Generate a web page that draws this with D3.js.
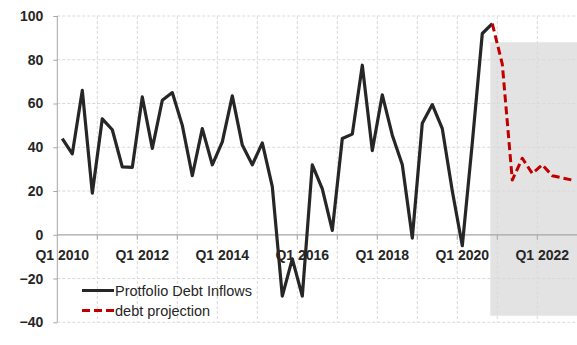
<!DOCTYPE html>
<html>
<head>
<meta charset="utf-8">
<script src="https://cdn.jsdelivr.net/npm/d3@7"></script>
<style>
  body { margin: 0; background: #fff; }
  svg { display: block; font-family: "Liberation Sans", Arial, sans-serif; }
</style>
</head>
<body>
<svg id="chart" width="577" height="345"></svg>
<script>
// quarters Q1 2010 .. Q4 2022
const years = [2010, 2011, 2012, 2013, 2014, 2015, 2016, 2017, 2018, 2019, 2020, 2021, 2022];
const quarters = [];
years.forEach(y => [1, 2, 3, 4].forEach(q => quarters.push(`Q${q} ${y}`)));

// Protfolio Debt Inflows, Q1 2010 .. Q4 2020
const inflows = [44, 37, 66, 19, 53, 48, 31, 30.8, 63, 39.5, 61.5, 65,
                 50, 27, 48.5, 32, 42.5, 63.5, 41, 32, 42, 22, -28, -11,
                 -28, 32, 21, 2, 44, 46, 77.5, 38.5, 64, 45.5, 32, -1.5,
                 51, 59.5, 48.5, 20, -5, 42, 92, 96.5];

// debt projection, Q4 2020 .. Q4 2022
const projStart = 43;
const projection = [96.5, 78, 25, 35, 28, 32, 27, 26, 25];

const yTicks = [-40, -20, 0, 20, 40, 60, 80, 100];
const xLabels = ["Q1 2010", "Q1 2012", "Q1 2014", "Q1 2016", "Q1 2018", "Q1 2020", "Q1 2022"];

// shaded projection area
const shadeFrom = "Q4 2020";
const shadeTop = 88, shadeBottom = -37;

const svg = d3.select("#chart");
const plotLeft = 57.3, plotRight = 577.3, plotTop = 16, plotBottom = 322.3;

const x = d3.scaleBand().domain(quarters).range([plotLeft, plotRight]).paddingInner(0).paddingOuter(0);
const y = d3.scaleLinear().domain([-40, 100]).range([plotBottom, plotTop]);
const cx = q => x(q) + x.bandwidth() / 2;

// shaded band
svg.append("rect")
  .attr("x", x(shadeFrom) + x.bandwidth() * 0.3)
  .attr("y", y(shadeTop))
  .attr("width", plotRight - x(shadeFrom) - x.bandwidth() * 0.3)
  .attr("height", y(shadeBottom) - y(shadeTop))
  .attr("fill", "#e3e3e3");

// gridlines
const grid = svg.append("g").attr("stroke", "#d9d9d9").attr("stroke-dasharray", "3,2").attr("stroke-width", 1);
grid.selectAll(".h").data(yTicks.filter(t => t !== 0)).join("line")
  .attr("x1", plotLeft).attr("x2", plotRight)
  .attr("y1", d => y(d)).attr("y2", d => y(d));
const yearStarts = quarters.filter((q, i) => i > 0 && i % 4 === 0);
grid.selectAll(".v").data(yearStarts).join("line")
  .attr("x1", d => x(d)).attr("x2", d => x(d))
  .attr("y1", plotTop).attr("y2", plotBottom);

// y axis
const yAxis = svg.append("g").attr("transform", `translate(${plotLeft},0)`)
  .call(d3.axisLeft(y).tickValues(yTicks).tickSize(4).tickPadding(10));
yAxis.select(".domain").attr("stroke", "#a6a6a6").attr("d", `M0,${plotTop}V${plotBottom}`);
yAxis.selectAll(".tick line").attr("stroke", "#a6a6a6");
yAxis.selectAll(".tick text")
  .attr("font-size", 14).attr("font-weight", "bold").attr("fill", "#262626")
  .attr("font-family", "Liberation Sans, Arial, sans-serif");

// x axis at zero
const xAxisG = svg.append("g").attr("transform", `translate(0,${y(0)})`);
xAxisG.append("line").attr("x1", plotLeft).attr("x2", plotRight).attr("stroke", "#a6a6a6").attr("stroke-width", 1.3);
xAxisG.selectAll(".tk").data(yearStarts).join("line")
  .attr("x1", d => x(d)).attr("x2", d => x(d)).attr("y1", 0).attr("y2", 5)
  .attr("stroke", "#a6a6a6");
xAxisG.selectAll("text").data(xLabels).join("text")
  .attr("x", d => cx(d)).attr("y", 25.5)
  .attr("text-anchor", "middle")
  .attr("font-size", 14).attr("font-weight", "bold").attr("fill", "#262626")
  .text(d => d);

// lines
const line = d3.line().x(d => cx(d[0])).y(d => y(d[1]));
svg.append("path")
  .datum(inflows.map((v, i) => [quarters[i], v]))
  .attr("d", line)
  .attr("fill", "none").attr("stroke", "#262626").attr("stroke-width", 3.2)
  .attr("stroke-linejoin", "round");
svg.append("path")
  .datum(projection.map((v, i) => [quarters[projStart + i], v]))
  .attr("d", line)
  .attr("fill", "none").attr("stroke", "#c00000").attr("stroke-width", 3)
  .attr("stroke-dasharray", "8,4").attr("stroke-linejoin", "round");

// legend
const legend = svg.append("g");
const items = [
  { label: "Protfolio Debt Inflows", color: "#262626", dash: null },
  { label: "debt projection", color: "#c00000", dash: "8,4" }
];
items.forEach((it, i) => {
  const ly = 290.5 + i * 20;
  legend.append("line").attr("x1", 82).attr("x2", 114).attr("y1", ly).attr("y2", ly)
    .attr("stroke", it.color).attr("stroke-width", 3).attr("stroke-dasharray", it.dash);
  legend.append("text").attr("x", 115).attr("y", ly + 5)
    .attr("font-size", 14.5).attr("fill", "#262626").text(it.label);
});
</script>
</body>
</html>
